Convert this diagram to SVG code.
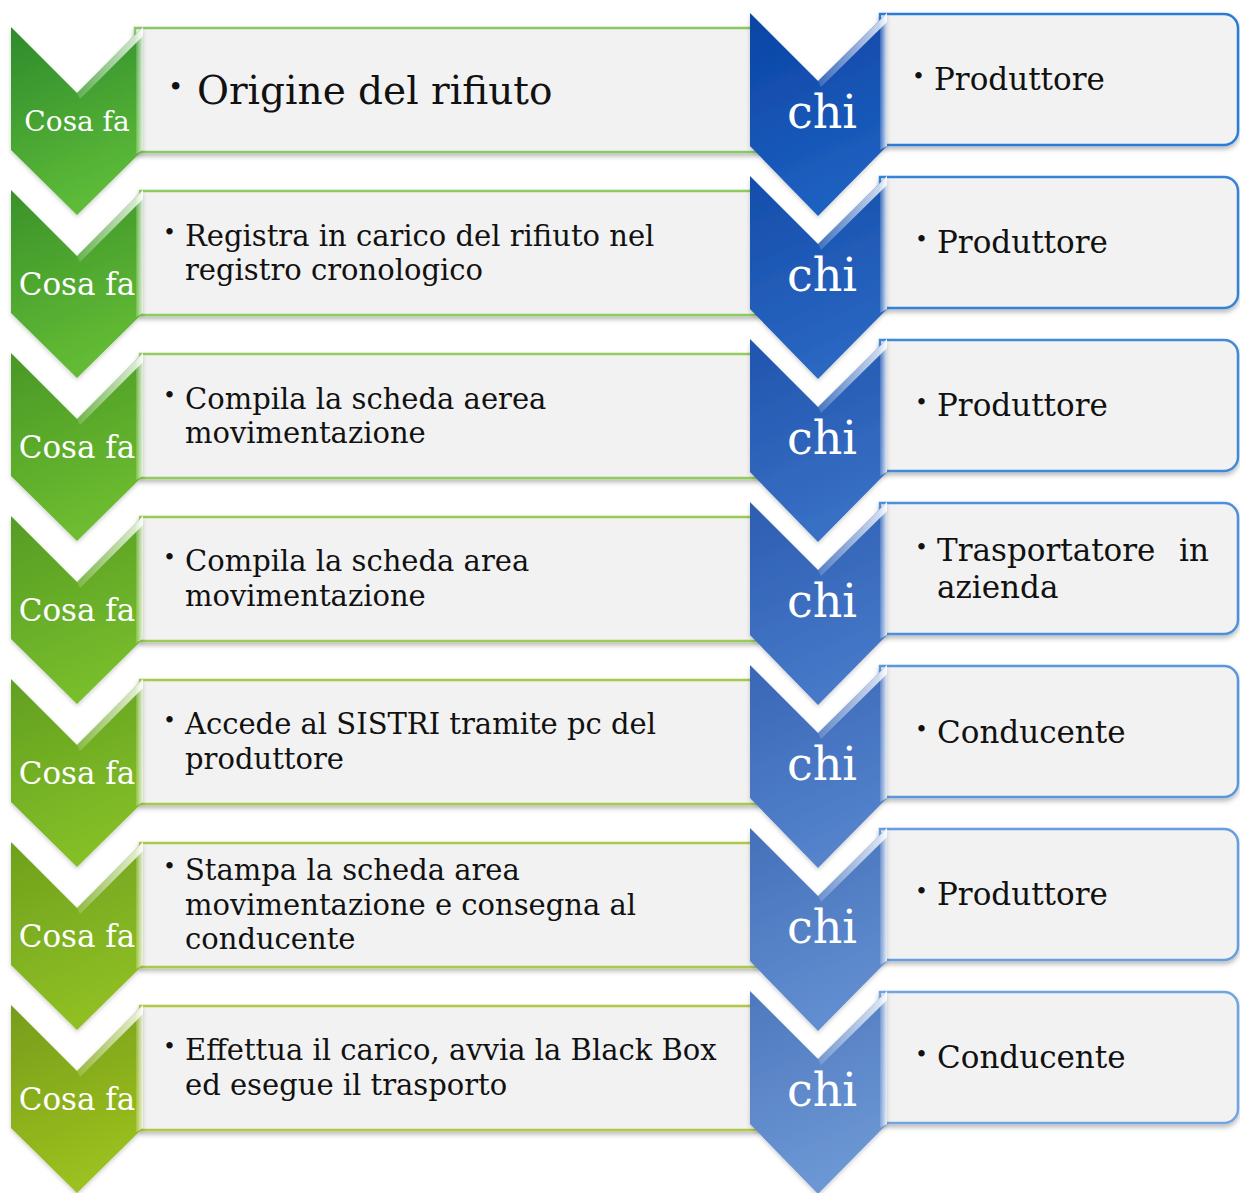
<svg xmlns="http://www.w3.org/2000/svg" width="1240" height="1193" viewBox="0 0 1240 1193">
<style>
.box{fill:#f2f2f2;stroke-width:2.5;filter:url(#sh)}
.cosa{font-family:"DejaVu Serif","Liberation Serif",serif;font-size:31px;fill:#fff;text-anchor:middle}
.chi{font-family:"DejaVu Serif","Liberation Serif",serif;font-size:46px;fill:#fff;text-anchor:middle}
.t{font-family:"DejaVu Serif","Liberation Serif",serif;font-size:29px;fill:#111}
.tr{font-family:"DejaVu Serif","Liberation Serif",serif;font-size:31px;fill:#111}
.bul{font-family:"DejaVu Serif","Liberation Serif",serif;font-size:22px;fill:#111}
.hl{fill:url(#hlg)}
.chev{filter:url(#sh2)}
</style>
<defs>
<filter id="sh" x="-5%" y="-10%" width="110%" height="130%"><feDropShadow dx="0" dy="3" stdDeviation="2.5" flood-color="#000" flood-opacity="0.28"/></filter>
<filter id="sh2" x="-10%" y="-10%" width="120%" height="120%"><feDropShadow dx="0" dy="2" stdDeviation="2" flood-color="#000" flood-opacity="0.2"/></filter>
<linearGradient id="hlg" x1="0" y1="0" x2="1" y2="0"><stop offset="0" stop-color="#fff" stop-opacity="0.15"/><stop offset="1" stop-color="#fff" stop-opacity="0.85"/></linearGradient>
<linearGradient id="g1" x1="0" y1="0" x2="0.3" y2="1"><stop offset="0" stop-color="#2e8a2c"/><stop offset="1" stop-color="#5dbb38"/></linearGradient>
<linearGradient id="g2" x1="0" y1="0" x2="0.3" y2="1"><stop offset="0" stop-color="#3a922a"/><stop offset="1" stop-color="#63bb34"/></linearGradient>
<linearGradient id="g3" x1="0" y1="0" x2="0.3" y2="1"><stop offset="0" stop-color="#489827"/><stop offset="1" stop-color="#6dbc30"/></linearGradient>
<linearGradient id="g4" x1="0" y1="0" x2="0.3" y2="1"><stop offset="0" stop-color="#559c24"/><stop offset="1" stop-color="#78bd2c"/></linearGradient>
<linearGradient id="g5" x1="0" y1="0" x2="0.3" y2="1"><stop offset="0" stop-color="#629f20"/><stop offset="1" stop-color="#84bf28"/></linearGradient>
<linearGradient id="g6" x1="0" y1="0" x2="0.3" y2="1"><stop offset="0" stop-color="#6ea01d"/><stop offset="1" stop-color="#8fbf24"/></linearGradient>
<linearGradient id="g7" x1="0" y1="0" x2="0.3" y2="1"><stop offset="0" stop-color="#779c1a"/><stop offset="1" stop-color="#9bc020"/></linearGradient>
<linearGradient id="b1" x1="0" y1="0" x2="0.3" y2="1"><stop offset="0" stop-color="#0b44a4"/><stop offset="1" stop-color="#1e60c0"/></linearGradient>
<linearGradient id="b2" x1="0" y1="0" x2="0.3" y2="1"><stop offset="0" stop-color="#154daa"/><stop offset="1" stop-color="#2a67c2"/></linearGradient>
<linearGradient id="b3" x1="0" y1="0" x2="0.3" y2="1"><stop offset="0" stop-color="#2154ae"/><stop offset="1" stop-color="#3870c4"/></linearGradient>
<linearGradient id="b4" x1="0" y1="0" x2="0.3" y2="1"><stop offset="0" stop-color="#2d5db2"/><stop offset="1" stop-color="#4679c8"/></linearGradient>
<linearGradient id="b5" x1="0" y1="0" x2="0.3" y2="1"><stop offset="0" stop-color="#3966b6"/><stop offset="1" stop-color="#5483cc"/></linearGradient>
<linearGradient id="b6" x1="0" y1="0" x2="0.3" y2="1"><stop offset="0" stop-color="#4470ba"/><stop offset="1" stop-color="#618ed0"/></linearGradient>
<linearGradient id="b7" x1="0" y1="0" x2="0.3" y2="1"><stop offset="0" stop-color="#4e78be"/><stop offset="1" stop-color="#6c97d4"/></linearGradient>
</defs>

<g id="connectors"></g>

<!-- Left column: Cosa fa -->
<g id="cosa-1" transform="translate(0,27)">
<path class="box" stroke="#86c966" d="M135,1 H754 A14,14 0 0 1 768,15 V111 A14,14 0 0 1 754,125 H135 Z"/>
<polygon class="chev" points="11,0 77,66 143,0 143,123 77,188 11,123" fill="url(#g1)"/>
<polygon class="hl" points="77,66 143,0 143,9 80,72"/>
<polygon class="hl" points="136,8 143,0 143,123 136,127"/>
<text class="cosa" x="77" y="104" style="font-size:28px">Cosa fa</text>
<text class="bul" x="168" y="69" style="font-size:26px">•</text>
<text class="t" x="197" y="77" style="font-size:39px">Origine del rifiuto</text>
</g>

<g id="cosa-2" transform="translate(0,190)">
<path class="box" stroke="#8ccb62" d="M140,1 H754 A14,14 0 0 1 768,15 V111 A14,14 0 0 1 754,125 H140 Z"/>
<polygon class="chev" points="11,0 77,66 143,0 143,123 77,188 11,123" fill="url(#g2)"/>
<polygon class="hl" points="77,66 143,0 143,9 80,72"/>
<polygon class="hl" points="136,8 143,0 143,123 136,127"/>
<text class="cosa" x="77" y="105">Cosa fa</text>
<text class="bul" x="163" y="50">•</text>
<text class="t" x="185" y="56">Registra in carico del rifiuto nel</text>
<text class="t" x="185" y="90">registro cronologico</text>
</g>

<g id="cosa-3" transform="translate(0,353)">
<path class="box" stroke="#93cb5c" d="M140,1 H754 A14,14 0 0 1 768,15 V111 A14,14 0 0 1 754,125 H140 Z"/>
<polygon class="chev" points="11,0 77,66 143,0 143,123 77,188 11,123" fill="url(#g3)"/>
<polygon class="hl" points="77,66 143,0 143,9 80,72"/>
<polygon class="hl" points="136,8 143,0 143,123 136,127"/>
<text class="cosa" x="77" y="105">Cosa fa</text>
<text class="bul" x="163" y="50">•</text>
<text class="t" x="185" y="56">Compila la scheda aerea</text>
<text class="t" x="185" y="90">movimentazione</text>
</g>

<g id="cosa-4" transform="translate(0,516)">
<path class="box" stroke="#9bcb56" d="M140,1 H754 A14,14 0 0 1 768,15 V111 A14,14 0 0 1 754,125 H140 Z"/>
<polygon class="chev" points="11,0 77,66 143,0 143,123 77,188 11,123" fill="url(#g4)"/>
<polygon class="hl" points="77,66 143,0 143,9 80,72"/>
<polygon class="hl" points="136,8 143,0 143,123 136,127"/>
<text class="cosa" x="77" y="105">Cosa fa</text>
<text class="bul" x="163" y="49">•</text>
<text class="t" x="185" y="55">Compila la scheda area</text>
<text class="t" x="185" y="90">movimentazione</text>
</g>

<g id="cosa-5" transform="translate(0,679)">
<path class="box" stroke="#a3ca50" d="M140,1 H754 A14,14 0 0 1 768,15 V111 A14,14 0 0 1 754,125 H140 Z"/>
<polygon class="chev" points="11,0 77,66 143,0 143,123 77,188 11,123" fill="url(#g5)"/>
<polygon class="hl" points="77,66 143,0 143,9 80,72"/>
<polygon class="hl" points="136,8 143,0 143,123 136,127"/>
<text class="cosa" x="77" y="105">Cosa fa</text>
<text class="bul" x="163" y="49">•</text>
<text class="t" x="185" y="55">Accede al SISTRI tramite pc del</text>
<text class="t" x="185" y="90">produttore</text>
</g>

<g id="cosa-6" transform="translate(0,842)">
<path class="box" stroke="#abc94a" d="M140,1 H754 A14,14 0 0 1 768,15 V111 A14,14 0 0 1 754,125 H140 Z"/>
<polygon class="chev" points="11,0 77,66 143,0 143,123 77,188 11,123" fill="url(#g6)"/>
<polygon class="hl" points="77,66 143,0 143,9 80,72"/>
<polygon class="hl" points="136,8 143,0 143,123 136,127"/>
<text class="cosa" x="77" y="105">Cosa fa</text>
<text class="bul" x="163" y="32">•</text>
<text class="t" x="185" y="38">Stampa la scheda area</text>
<text class="t" x="185" y="73">movimentazione e consegna al</text>
<text class="t" x="185" y="107">conducente</text>
</g>

<g id="cosa-7" transform="translate(0,1005)">
<path class="box" stroke="#b2c844" d="M140,1 H754 A14,14 0 0 1 768,15 V111 A14,14 0 0 1 754,125 H140 Z"/>
<polygon class="chev" points="11,0 77,66 143,0 143,123 77,188 11,123" fill="url(#g7)"/>
<polygon class="hl" points="77,66 143,0 143,9 80,72"/>
<polygon class="hl" points="136,8 143,0 143,123 136,127"/>
<text class="cosa" x="77" y="105">Cosa fa</text>
<text class="bul" x="163" y="49">•</text>
<text class="t" x="185" y="55">Effettua il carico, avvia la Black Box</text>
<text class="t" x="185" y="90">ed esegue il trasporto</text>
</g>

<!-- Right column: chi -->
<g id="chi-1" transform="translate(0,13)">
<path class="box" stroke="#2c7bd6" d="M880,1 H1224 A14,14 0 0 1 1238,15 V118 A14,14 0 0 1 1224,132 H880 Z"/>
<polygon class="chev" points="750,0 818,68 887,0 887,133 818,203 750,133" fill="url(#b1)"/>
<polygon class="hl" points="818,68 887,0 887,9 821,74"/>
<polygon class="hl" points="880,8 887,0 887,133 880,137"/>
<text class="chi" x="822" y="115">chi</text>
<text class="bul" x="912" y="71">•</text>
<text class="tr" x="934" y="77">Produttore</text>
</g>

<g id="chi-2" transform="translate(0,176)">
<path class="box" stroke="#3682d6" d="M880,1 H1224 A14,14 0 0 1 1238,15 V118 A14,14 0 0 1 1224,132 H880 Z"/>
<polygon class="chev" points="750,0 818,68 887,0 887,133 818,203 750,133" fill="url(#b2)"/>
<polygon class="hl" points="818,68 887,0 887,9 821,74"/>
<polygon class="hl" points="880,8 887,0 887,133 880,137"/>
<text class="chi" x="822" y="115">chi</text>
<text class="bul" x="915" y="71">•</text>
<text class="tr" x="937" y="77">Produttore</text>
</g>

<g id="chi-3" transform="translate(0,339)">
<path class="box" stroke="#4289d8" d="M880,1 H1224 A14,14 0 0 1 1238,15 V118 A14,14 0 0 1 1224,132 H880 Z"/>
<polygon class="chev" points="750,0 818,68 887,0 887,133 818,203 750,133" fill="url(#b3)"/>
<polygon class="hl" points="818,68 887,0 887,9 821,74"/>
<polygon class="hl" points="880,8 887,0 887,133 880,137"/>
<text class="chi" x="822" y="115">chi</text>
<text class="bul" x="915" y="71">•</text>
<text class="tr" x="937" y="77">Produttore</text>
</g>

<g id="chi-4" transform="translate(0,502)">
<path class="box" stroke="#4e90da" d="M880,1 H1224 A14,14 0 0 1 1238,15 V118 A14,14 0 0 1 1224,132 H880 Z"/>
<polygon class="chev" points="750,0 818,68 887,0 887,133 818,203 750,133" fill="url(#b4)"/>
<polygon class="hl" points="818,68 887,0 887,9 821,74"/>
<polygon class="hl" points="880,8 887,0 887,133 880,137"/>
<text class="chi" x="822" y="115">chi</text>
<text class="bul" x="915" y="53">•</text>
<text class="tr" x="937" y="59">Trasportatore <tspan x="1179">in</tspan></text>
<text class="tr" x="937" y="96">azienda</text>
</g>

<g id="chi-5" transform="translate(0,665)">
<path class="box" stroke="#5a97dc" d="M880,1 H1224 A14,14 0 0 1 1238,15 V118 A14,14 0 0 1 1224,132 H880 Z"/>
<polygon class="chev" points="750,0 818,68 887,0 887,133 818,203 750,133" fill="url(#b5)"/>
<polygon class="hl" points="818,68 887,0 887,9 821,74"/>
<polygon class="hl" points="880,8 887,0 887,133 880,137"/>
<text class="chi" x="822" y="115">chi</text>
<text class="bul" x="915" y="72">•</text>
<text class="tr" x="937" y="78">Conducente</text>
</g>

<g id="chi-6" transform="translate(0,828)">
<path class="box" stroke="#669ede" d="M880,1 H1224 A14,14 0 0 1 1238,15 V118 A14,14 0 0 1 1224,132 H880 Z"/>
<polygon class="chev" points="750,0 818,68 887,0 887,133 818,203 750,133" fill="url(#b6)"/>
<polygon class="hl" points="818,68 887,0 887,9 821,74"/>
<polygon class="hl" points="880,8 887,0 887,133 880,137"/>
<text class="chi" x="822" y="115">chi</text>
<text class="bul" x="915" y="71">•</text>
<text class="tr" x="937" y="77">Produttore</text>
</g>

<g id="chi-7" transform="translate(0,991)">
<path class="box" stroke="#72a5e0" d="M880,1 H1224 A14,14 0 0 1 1238,15 V118 A14,14 0 0 1 1224,132 H880 Z"/>
<polygon class="chev" points="750,0 818,68 887,0 887,133 818,203 750,133" fill="url(#b7)"/>
<polygon class="hl" points="818,68 887,0 887,9 821,74"/>
<polygon class="hl" points="880,8 887,0 887,133 880,137"/>
<text class="chi" x="822" y="115">chi</text>
<text class="bul" x="915" y="71">•</text>
<text class="tr" x="937" y="77">Conducente</text>
</g>
</svg>
